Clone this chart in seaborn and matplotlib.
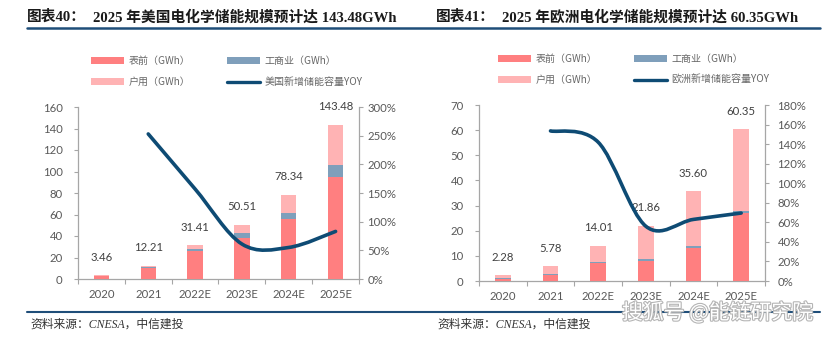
import numpy as np
import matplotlib
matplotlib.use("Agg")
import matplotlib.pyplot as plt
import seaborn as sns
from matplotlib.path import Path
from matplotlib.patches import PathPatch, Patch
from matplotlib.lines import Line2D
from matplotlib.ticker import FuncFormatter, FixedLocator
import matplotlib.patheffects as pe

# ---------------- data ----------------
years = ["2020", "2021", "2022E", "2023E", "2024E", "2025E"]

us_ftm = [2.8, 10.5, 26.0, 37.8, 55.5, 94.6]        # 表前
us_ci = [0.2, 0.2, 1.9, 5.3, 5.6, 11.4]             # 工商业
us_res = [0.46, 1.51, 3.51, 7.41, 17.24, 37.48]     # 户用
us_total = [3.46, 12.21, 31.41, 50.51, 78.34, 143.48]
us_yoy = [np.nan, 253, 157, 61, 55, 83]             # %

eu_ftm = [0.8, 2.5, 7.0, 8.0, 13.3, 26.9]
eu_ci = [0.2, 0.35, 0.5, 0.7, 0.7, 0.9]
eu_res = [1.28, 2.93, 6.51, 13.16, 21.6, 32.55]
eu_total = [2.28, 5.78, 14.01, 21.86, 35.60, 60.35]
eu_yoy = [np.nan, 153.5, 142, 56, 63, 69.5]

legend_labels_us = ["表前（GWh）", "户用（GWh）", "工商业（GWh）", "美国新增储能容量YOY"]
legend_labels_eu = ["表前（GWh）", "户用（GWh）", "工商业（GWh）", "欧洲新增储能容量YOY"]

title_us = ("图表40：", "2025 年美国电化学储能规模预计达 143.48GWh")
title_eu = ("图表41：", "2025 年欧洲电化学储能规模预计达 60.35GWh")
source_text = "资料来源：CNESA，中信建投"
watermark = "搜狐号 @能链研究院"

# ---------------- style ----------------
C_FTM = "#FF7F80"
C_CI = "#7F9FBB"
C_RES = "#FFB3B4"
C_LINE = "#0E4B74"
C_RULE = "#1F4E79"
C_AXIS = "#A6A6A6"
C_TICK = "#595959"

sns.set_style("white")
plt.rcParams["font.family"] = ["Lato", "Noto Sans CJK SC", "DejaVu Sans"]

W, H = 831, 337
fig = plt.figure(figsize=(W / 100, H / 100), dpi=100)
fig.patch.set_facecolor("white")


def fx(px):
    return px / W


def fy(py):
    return 1 - py / H


def smooth_path(xs, ys):
    pts = [(x, y) for x, y in zip(xs, ys) if not np.isnan(y)]
    n = len(pts)
    verts = [pts[0]]
    codes = [Path.MOVETO]
    for i in range(n - 1):
        p0 = pts[i - 1] if i > 0 else pts[i]
        p1 = pts[i]
        p2 = pts[i + 1]
        p3 = pts[i + 2] if i + 2 < n else pts[i + 1]
        c1 = (p1[0] + (p2[0] - p0[0]) / 6, p1[1] + (p2[1] - p0[1]) / 6)
        c2 = (p2[0] - (p3[0] - p1[0]) / 6, p2[1] - (p3[1] - p1[1]) / 6)
        verts += [c1, c2, p2]
        codes += [Path.CURVE4] * 3
    return Path(verts, codes)


def draw_chart(rect, ftm, ci, res, total, yoy, lmax, lstep, rmax, rstep,
               lpad, rpad):
    ax = fig.add_axes(rect)
    ftm = np.array(ftm)
    ci = np.array(ci)
    res = np.array(res)
    bw = 0.33
    sns.barplot(x=years, y=ftm + ci + res, color=C_RES, saturation=1,
                width=bw, linewidth=0, ax=ax, zorder=2)
    sns.barplot(x=years, y=ftm + ci, color=C_CI, saturation=1,
                width=bw, linewidth=0, ax=ax, zorder=3)
    sns.barplot(x=years, y=ftm, color=C_FTM, saturation=1,
                width=bw, linewidth=0, ax=ax, zorder=4)
    ax.set_xlabel("")
    ax.set_ylabel("")
    ax.set_xlim(-0.5, len(years) - 0.5)
    ax.set_ylim(0, lmax)
    ax.set_yticks(np.arange(0, lmax + 1e-9, lstep))
    for i, v in enumerate(total):
        ax.annotate(f"{v:.2f}", (i, v), xytext=(0, 13),
                    textcoords="offset points", ha="center", va="center",
                    fontsize=8.2, color="#404040", family="Lato", zorder=5)

    ax2 = ax.twinx()
    ax2.set_ylim(0, rmax)
    ax2.set_yticks(np.arange(0, rmax + 1e-9, rstep))
    ax2.yaxis.set_major_formatter(FuncFormatter(lambda v, p: f"{v:.0f}%"))
    xs = np.arange(len(years))
    patch = PathPatch(smooth_path(xs, yoy), facecolor="none",
                      edgecolor=C_LINE, lw=2.6, capstyle="round",
                      joinstyle="round", transform=ax2.transData)
    ax2.add_patch(patch)
    ax2.set_xlim(-0.5, len(years) - 0.5)

    for a in (ax, ax2):
        a.spines["top"].set_visible(False)
        for s in a.spines.values():
            s.set_color(C_AXIS)
            s.set_linewidth(0.9)
        a.grid(False)
    ax.spines["right"].set_visible(False)
    ax2.spines["left"].set_visible(False)
    ax2.spines["bottom"].set_visible(False)

    ax.tick_params(axis="y", which="major", length=3, width=0.8,
                   color=C_AXIS, labelcolor=C_TICK, labelsize=8.2,
                   pad=lpad, direction="out", left=True)
    ax2.tick_params(axis="y", which="major", length=3, width=0.8,
                    color=C_AXIS, labelcolor=C_TICK, labelsize=8.2,
                    pad=rpad, direction="out", right=True)
    ax.tick_params(axis="x", which="major", length=0, labelcolor=C_TICK,
                   labelsize=8.2, pad=7)
    ax.xaxis.set_minor_locator(FixedLocator(np.arange(-0.5, len(years), 1.0)))
    ax.tick_params(axis="x", which="minor", length=3.5, width=0.8,
                   color=C_AXIS, direction="out", bottom=True)
    return ax, ax2


draw_chart([fx(78), fy(279), fx(359) - fx(78), fy(107) - fy(279)],
           us_ftm, us_ci, us_res, us_total, us_yoy, 160, 20, 300, 50,
           lpad=8, rpad=3)
draw_chart([fx(479), fy(281), fx(765) - fx(479), fy(105) - fy(281)],
           eu_ftm, eu_ci, eu_res, eu_total, eu_yoy, 70, 10, 180, 20,
           lpad=8, rpad=6)

# ---------------- legends ----------------
def make_legend(x, y, labels):
    handles = [Patch(facecolor=C_FTM, edgecolor="none"),
               Patch(facecolor=C_RES, edgecolor="none"),
               Patch(facecolor=C_CI, edgecolor="none"),
               Line2D([], [], color=C_LINE, lw=2.4)]
    leg = fig.legend(handles, labels, ncol=2, loc="upper left",
                     bbox_to_anchor=(fx(x), fy(y)), frameon=False,
                     prop={"family": ["Noto Sans CJK SC"], "size": 7.2},
                     handlelength=3.3, handleheight=0.6, handletextpad=0.45,
                     columnspacing=3.7, labelspacing=1.1, borderpad=0,
                     borderaxespad=0)
    for t in leg.get_texts():
        t.set_color("#666666")
    return leg


make_legend(91, 56, legend_labels_us)
make_legend(498, 54, legend_labels_eu)

# ---------------- titles, rules, source ----------------
title_font = dict(family=["Liberation Serif", "Noto Sans CJK SC"],
                  weight="bold", size=10.6, color="#1A1A1A", va="center")
fig.text(fx(27), fy(17), title_us[0], **title_font)
fig.text(fx(93), fy(17), title_us[1], **title_font)
fig.text(fx(436), fy(17), title_eu[0], **title_font)
fig.text(fx(502), fy(17), title_eu[1], **title_font)

fig.add_artist(Line2D([fx(27), fx(820)], [fy(28), fy(28)], color=C_RULE,
                      lw=1.8, transform=fig.transFigure))
fig.add_artist(Line2D([fx(27), fx(820)], [fy(312), fy(312)], color=C_RULE,
                      lw=1.5, transform=fig.transFigure))

src_font = dict(family=["Liberation Serif", "Noto Sans CJK SC"],
                style="italic", size=8.5, color="#333333", va="center")
fig.text(fx(30), fy(325), source_text, **src_font)
fig.text(fx(437), fy(325), source_text, **src_font)

fig.text(fx(622), fy(313), watermark, family=["Noto Sans CJK SC"],
         size=15, color="white", va="center",
         path_effects=[pe.withStroke(linewidth=1.6, foreground="#B5B5B5")])

fig.savefig("out.png", dpi=100, facecolor="white")
